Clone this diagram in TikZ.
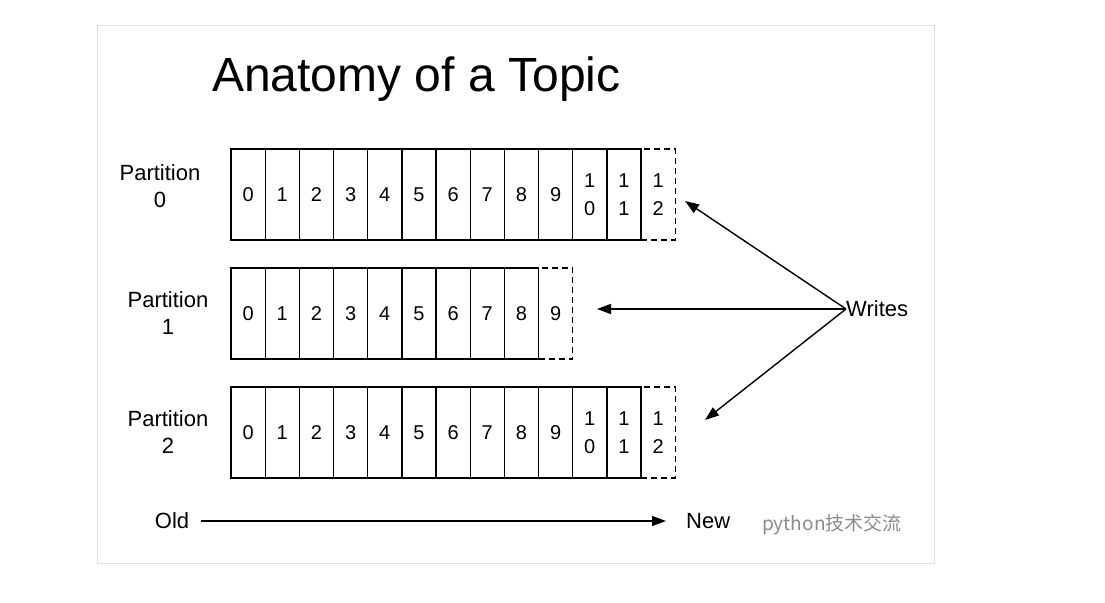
\documentclass[tikz,border=0pt]{standalone}
\usepackage{fontspec}
\setmainfont{Liberation Sans}
\newfontfamily\cjk{Noto Sans CJK SC}
\usetikzlibrary{arrows.meta}
\begin{document}
\begin{tikzpicture}[x=1pt,y=-1pt,
  cellbox/.style={draw, line width=1.3pt, minimum width=34.17pt, minimum height=91pt,
    inner sep=0pt, outer sep=0pt, anchor=north west, align=center,
    font=\fontsize{20}{28}\selectfont},
  dashcell/.style={cellbox, dashed, dash pattern=on 6pt off 4pt},
  plabel/.style={align=center, font=\fontsize{22}{27}\selectfont, inner sep=0pt},
  wire/.style={line width=1.4pt, -{Triangle[length=14pt,width=10pt]}},
  txt/.style={font=\fontsize{22}{26}\selectfont, inner sep=0pt}
]
\useasboundingbox (0,0) rectangle (1105,602);
\fill[white] (0,0) rectangle (1105,602);
\draw[black!12, line width=1pt] (97,26) rectangle (934,563);

\node[font=\fontsize{48}{52}\selectfont, anchor=west, inner sep=0pt] (title) at (212,79) {Anatomy of a Topic};

% partition 0
\node[plabel] (l0) at (160,186) {Partition\\0};
\foreach \i in {0,...,9} {
  \node[cellbox] (a\i) at ({231+\i*34.17},149) {\i};
}
\node[cellbox] (a10) at ({231+10*34.17},149) {1\\0};
\node[cellbox] (a11) at ({231+11*34.17},149) {1\\1};
\node[dashcell] (a12) at ({231+12*34.17},149) {1\\2};

% partition 1
\node[plabel] (l1) at (168,313) {Partition\\1};
\foreach \i in {0,...,8} {
  \node[cellbox] (b\i) at ({231+\i*34.17},268) {\i};
}
\node[dashcell] (b9) at ({231+9*34.17},268) {9};

% partition 2
\node[plabel] (l2) at (168,432) {Partition\\2};
\foreach \i in {0,...,9} {
  \node[cellbox] (c\i) at ({231+\i*34.17},387) {\i};
}
\node[cellbox] (c10) at ({231+10*34.17},387) {1\\0};
\node[cellbox] (c11) at ({231+11*34.17},387) {1\\1};
\node[dashcell] (c12) at ({231+12*34.17},387) {1\\2};

% writes
\node[txt, anchor=west] (writes) at (846,309) {Writes};
\coordinate (t0) at (685,201);
\coordinate (t1) at (597,309);
\coordinate (t2) at (705,420);
\draw[wire] (writes.west) -- (t0);
\draw[wire] (writes.west) -- (t1);
\draw[wire] (writes.west) -- (t2);

% old -> new
\node[txt] (old) at (172,521) {Old};
\node[txt, anchor=west] (new) at (686,521) {New};
\coordinate (oldstart) at ([xshift=12pt]old.east);
\coordinate (newend) at ([xshift=-20pt]new.west);
\draw[wire] (oldstart) -- (newend);
\node[anchor=west, inner sep=0pt, text=black!45, font=\cjk\fontsize{19}{22}\selectfont] (wm) at (762,525) {python技术交流};
\end{tikzpicture}
\end{document}
